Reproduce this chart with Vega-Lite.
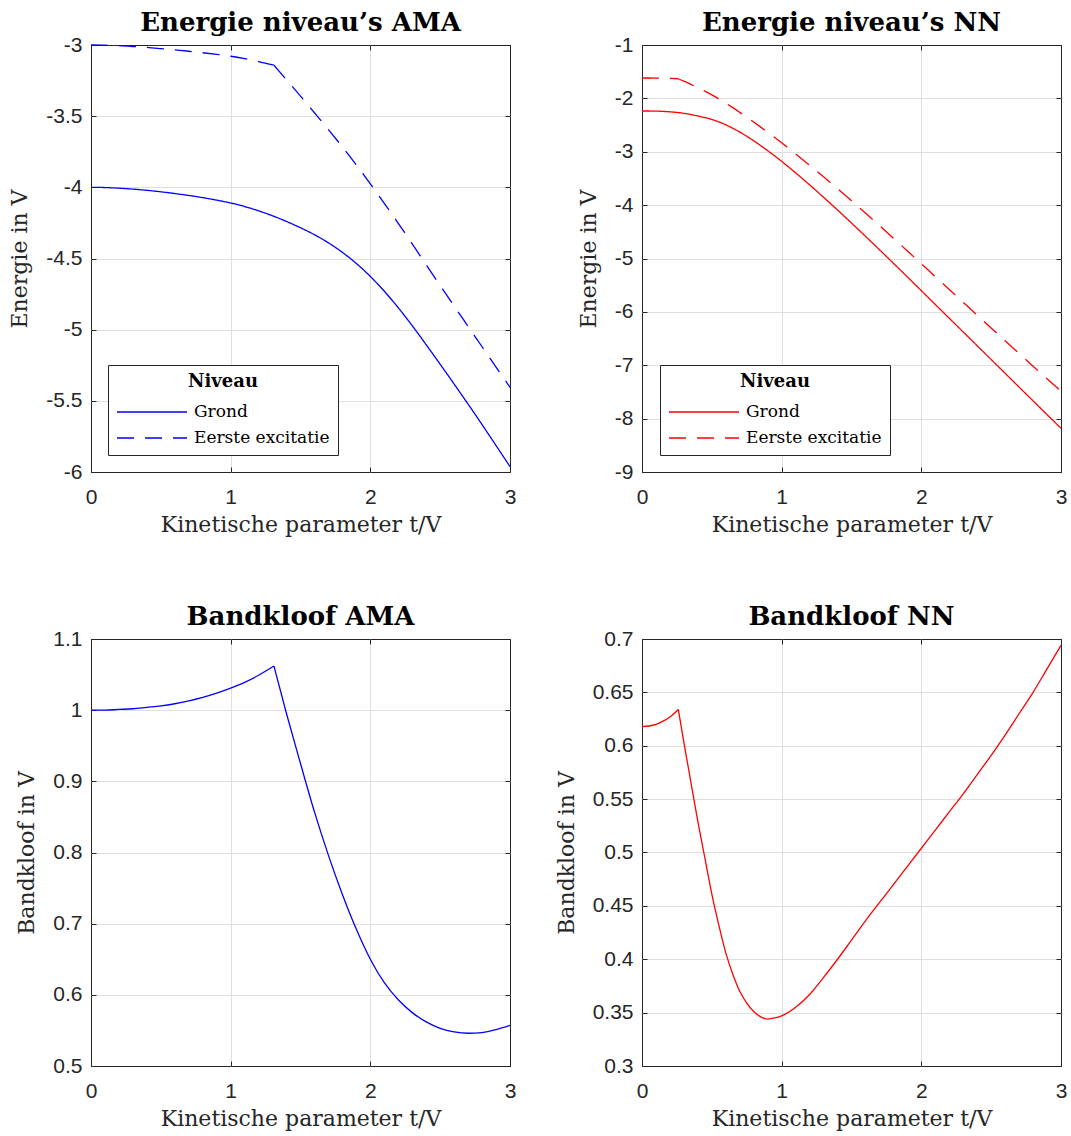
{
  "$schema": "https://vega.github.io/schema/vega-lite/v6.json",
  "background": "white",
  "autosize": {"type": "none"},
  "padding": {"left": 91, "top": 45, "right": 980, "bottom": 1091},
  "columns": 2,
  "spacing": {"row": 167, "column": 132},
  "bounds": "flush",
  "resolve": {"scale": {"strokeDash": "independent"}, "legend": {"strokeDash": "independent"}},
  "datasets": {
    "amaLevels": [
      {"t": 0, "niveau": "Grond", "seg": 1, "E": -4.000}, {"t": 0.1, "niveau": "Grond", "seg": 1, "E": -4.0015}, {"t": 0.2, "niveau": "Grond", "seg": 1, "E": -4.006},
      {"t": 0.3, "niveau": "Grond", "seg": 1, "E": -4.0125}, {"t": 0.4, "niveau": "Grond", "seg": 1, "E": -4.021}, {"t": 0.5, "niveau": "Grond", "seg": 1, "E": -4.0315},
      {"t": 0.6, "niveau": "Grond", "seg": 1, "E": -4.0435}, {"t": 0.7, "niveau": "Grond", "seg": 1, "E": -4.057}, {"t": 0.8, "niveau": "Grond", "seg": 1, "E": -4.0725},
      {"t": 0.9, "niveau": "Grond", "seg": 1, "E": -4.090}, {"t": 1.0, "niveau": "Grond", "seg": 1, "E": -4.110}, {"t": 1.1, "niveau": "Grond", "seg": 1, "E": -4.135},
      {"t": 1.2, "niveau": "Grond", "seg": 1, "E": -4.165}, {"t": 1.3, "niveau": "Grond", "seg": 1, "E": -4.200}, {"t": 1.4, "niveau": "Grond", "seg": 1, "E": -4.240},
      {"t": 1.5, "niveau": "Grond", "seg": 1, "E": -4.284}, {"t": 1.6, "niveau": "Grond", "seg": 1, "E": -4.333}, {"t": 1.7, "niveau": "Grond", "seg": 1, "E": -4.390},
      {"t": 1.8, "niveau": "Grond", "seg": 1, "E": -4.457}, {"t": 1.9, "niveau": "Grond", "seg": 1, "E": -4.535}, {"t": 2.0, "niveau": "Grond", "seg": 1, "E": -4.626},
      {"t": 2.1, "niveau": "Grond", "seg": 1, "E": -4.730}, {"t": 2.2, "niveau": "Grond", "seg": 1, "E": -4.846}, {"t": 2.3, "niveau": "Grond", "seg": 1, "E": -4.972},
      {"t": 2.4, "niveau": "Grond", "seg": 1, "E": -5.106}, {"t": 2.5, "niveau": "Grond", "seg": 1, "E": -5.243}, {"t": 2.6, "niveau": "Grond", "seg": 1, "E": -5.382},
      {"t": 2.7, "niveau": "Grond", "seg": 1, "E": -5.523}, {"t": 2.8, "niveau": "Grond", "seg": 1, "E": -5.667}, {"t": 2.9, "niveau": "Grond", "seg": 1, "E": -5.814},
      {"t": 3.0, "niveau": "Grond", "seg": 1, "E": -5.962},
      {"t": 0, "niveau": "Eerste excitatie", "seg": 1, "E": -3.000}, {"t": 0.1, "niveau": "Eerste excitatie", "seg": 1, "E": -3.0015}, {"t": 0.2, "niveau": "Eerste excitatie", "seg": 1, "E": -3.005},
      {"t": 0.3, "niveau": "Eerste excitatie", "seg": 1, "E": -3.0105}, {"t": 0.4, "niveau": "Eerste excitatie", "seg": 1, "E": -3.017}, {"t": 0.5, "niveau": "Eerste excitatie", "seg": 1, "E": -3.0255},
      {"t": 0.6, "niveau": "Eerste excitatie", "seg": 1, "E": -3.0345}, {"t": 0.7, "niveau": "Eerste excitatie", "seg": 1, "E": -3.044}, {"t": 0.8, "niveau": "Eerste excitatie", "seg": 1, "E": -3.0545},
      {"t": 0.9, "niveau": "Eerste excitatie", "seg": 1, "E": -3.066}, {"t": 1.0, "niveau": "Eerste excitatie", "seg": 1, "E": -3.079}, {"t": 1.1, "niveau": "Eerste excitatie", "seg": 1, "E": -3.096},
      {"t": 1.2, "niveau": "Eerste excitatie", "seg": 1, "E": -3.116}, {"t": 1.31, "niveau": "Eerste excitatie", "seg": 1, "E": -3.142},
      {"t": 1.31, "niveau": "Eerste excitatie", "seg": 2, "E": -3.142}, {"t": 1.4, "niveau": "Eerste excitatie", "seg": 2, "E": -3.245},
      {"t": 1.5, "niveau": "Eerste excitatie", "seg": 2, "E": -3.359}, {"t": 1.6, "niveau": "Eerste excitatie", "seg": 2, "E": -3.476}, {"t": 1.7, "niveau": "Eerste excitatie", "seg": 2, "E": -3.594},
      {"t": 1.8, "niveau": "Eerste excitatie", "seg": 2, "E": -3.716}, {"t": 1.9, "niveau": "Eerste excitatie", "seg": 2, "E": -3.843}, {"t": 2.0, "niveau": "Eerste excitatie", "seg": 2, "E": -3.976},
      {"t": 2.1, "niveau": "Eerste excitatie", "seg": 2, "E": -4.113}, {"t": 2.2, "niveau": "Eerste excitatie", "seg": 2, "E": -4.253}, {"t": 2.3, "niveau": "Eerste excitatie", "seg": 2, "E": -4.397},
      {"t": 2.4, "niveau": "Eerste excitatie", "seg": 2, "E": -4.544}, {"t": 2.5, "niveau": "Eerste excitatie", "seg": 2, "E": -4.690}, {"t": 2.6, "niveau": "Eerste excitatie", "seg": 2, "E": -4.834},
      {"t": 2.7, "niveau": "Eerste excitatie", "seg": 2, "E": -4.977}, {"t": 2.8, "niveau": "Eerste excitatie", "seg": 2, "E": -5.120}, {"t": 2.9, "niveau": "Eerste excitatie", "seg": 2, "E": -5.263},
      {"t": 3.0, "niveau": "Eerste excitatie", "seg": 2, "E": -5.405}
    ],
    "nnLevels": [
      {"t": 0, "niveau": "Grond", "seg": 1, "E": -2.236}, {"t": 0.1, "niveau": "Grond", "seg": 1, "E": -2.239}, {"t": 0.2, "niveau": "Grond", "seg": 1, "E": -2.252},
      {"t": 0.26, "niveau": "Grond", "seg": 1, "E": -2.266}, {"t": 0.3, "niveau": "Grond", "seg": 1, "E": -2.280}, {"t": 0.35, "niveau": "Grond", "seg": 1, "E": -2.303},
      {"t": 0.4, "niveau": "Grond", "seg": 1, "E": -2.330}, {"t": 0.45, "niveau": "Grond", "seg": 1, "E": -2.360}, {"t": 0.5, "niveau": "Grond", "seg": 1, "E": -2.395},
      {"t": 0.55, "niveau": "Grond", "seg": 1, "E": -2.440}, {"t": 0.6, "niveau": "Grond", "seg": 1, "E": -2.495}, {"t": 0.65, "niveau": "Grond", "seg": 1, "E": -2.560},
      {"t": 0.7, "niveau": "Grond", "seg": 1, "E": -2.632}, {"t": 0.75, "niveau": "Grond", "seg": 1, "E": -2.710}, {"t": 0.8, "niveau": "Grond", "seg": 1, "E": -2.795},
      {"t": 0.85, "niveau": "Grond", "seg": 1, "E": -2.885}, {"t": 0.9, "niveau": "Grond", "seg": 1, "E": -2.980}, {"t": 0.95, "niveau": "Grond", "seg": 1, "E": -3.078},
      {"t": 1.0, "niveau": "Grond", "seg": 1, "E": -3.180}, {"t": 1.1, "niveau": "Grond", "seg": 1, "E": -3.395}, {"t": 1.2, "niveau": "Grond", "seg": 1, "E": -3.620},
      {"t": 1.3, "niveau": "Grond", "seg": 1, "E": -3.853}, {"t": 1.4, "niveau": "Grond", "seg": 1, "E": -4.092}, {"t": 1.5, "niveau": "Grond", "seg": 1, "E": -4.336},
      {"t": 1.6, "niveau": "Grond", "seg": 1, "E": -4.584}, {"t": 1.7, "niveau": "Grond", "seg": 1, "E": -4.835}, {"t": 1.8, "niveau": "Grond", "seg": 1, "E": -5.089},
      {"t": 1.9, "niveau": "Grond", "seg": 1, "E": -5.345}, {"t": 2.0, "niveau": "Grond", "seg": 1, "E": -5.603}, {"t": 2.1, "niveau": "Grond", "seg": 1, "E": -5.861},
      {"t": 2.2, "niveau": "Grond", "seg": 1, "E": -6.119}, {"t": 2.3, "niveau": "Grond", "seg": 1, "E": -6.377}, {"t": 2.4, "niveau": "Grond", "seg": 1, "E": -6.635},
      {"t": 2.5, "niveau": "Grond", "seg": 1, "E": -6.893}, {"t": 2.6, "niveau": "Grond", "seg": 1, "E": -7.151}, {"t": 2.7, "niveau": "Grond", "seg": 1, "E": -7.409},
      {"t": 2.8, "niveau": "Grond", "seg": 1, "E": -7.667}, {"t": 2.9, "niveau": "Grond", "seg": 1, "E": -7.925}, {"t": 3.0, "niveau": "Grond", "seg": 1, "E": -8.180},
      {"t": 0, "niveau": "Eerste excitatie", "seg": 1, "E": -1.618}, {"t": 0.1, "niveau": "Eerste excitatie", "seg": 1, "E": -1.619}, {"t": 0.2, "niveau": "Eerste excitatie", "seg": 1, "E": -1.625},
      {"t": 0.26, "niveau": "Eerste excitatie", "seg": 1, "E": -1.632},
      {"t": 0.26, "niveau": "Eerste excitatie", "seg": 2, "E": -1.632}, {"t": 0.3, "niveau": "Eerste excitatie", "seg": 2, "E": -1.677}, {"t": 0.35, "niveau": "Eerste excitatie", "seg": 2, "E": -1.737},
      {"t": 0.4, "niveau": "Eerste excitatie", "seg": 2, "E": -1.801}, {"t": 0.45, "niveau": "Eerste excitatie", "seg": 2, "E": -1.865}, {"t": 0.5, "niveau": "Eerste excitatie", "seg": 2, "E": -1.934},
      {"t": 0.55, "niveau": "Eerste excitatie", "seg": 2, "E": -2.008}, {"t": 0.6, "niveau": "Eerste excitatie", "seg": 2, "E": -2.089}, {"t": 0.65, "niveau": "Eerste excitatie", "seg": 2, "E": -2.174},
      {"t": 0.7, "niveau": "Eerste excitatie", "seg": 2, "E": -2.262}, {"t": 0.75, "niveau": "Eerste excitatie", "seg": 2, "E": -2.351}, {"t": 0.8, "niveau": "Eerste excitatie", "seg": 2, "E": -2.444},
      {"t": 0.85, "niveau": "Eerste excitatie", "seg": 2, "E": -2.539}, {"t": 0.9, "niveau": "Eerste excitatie", "seg": 2, "E": -2.636}, {"t": 0.95, "niveau": "Eerste excitatie", "seg": 2, "E": -2.733},
      {"t": 1.0, "niveau": "Eerste excitatie", "seg": 2, "E": -2.833}, {"t": 1.1, "niveau": "Eerste excitatie", "seg": 2, "E": -3.040}, {"t": 1.2, "niveau": "Eerste excitatie", "seg": 2, "E": -3.253},
      {"t": 1.3, "niveau": "Eerste excitatie", "seg": 2, "E": -3.470}, {"t": 1.4, "niveau": "Eerste excitatie", "seg": 2, "E": -3.692}, {"t": 1.5, "niveau": "Eerste excitatie", "seg": 2, "E": -3.918},
      {"t": 1.6, "niveau": "Eerste excitatie", "seg": 2, "E": -4.148}, {"t": 1.7, "niveau": "Eerste excitatie", "seg": 2, "E": -4.382}, {"t": 1.8, "niveau": "Eerste excitatie", "seg": 2, "E": -4.619},
      {"t": 1.9, "niveau": "Eerste excitatie", "seg": 2, "E": -4.858}, {"t": 2.0, "niveau": "Eerste excitatie", "seg": 2, "E": -5.099}, {"t": 2.1, "niveau": "Eerste excitatie", "seg": 2, "E": -5.340},
      {"t": 2.2, "niveau": "Eerste excitatie", "seg": 2, "E": -5.581}, {"t": 2.3, "niveau": "Eerste excitatie", "seg": 2, "E": -5.822}, {"t": 2.4, "niveau": "Eerste excitatie", "seg": 2, "E": -6.062},
      {"t": 2.5, "niveau": "Eerste excitatie", "seg": 2, "E": -6.302}, {"t": 2.6, "niveau": "Eerste excitatie", "seg": 2, "E": -6.541}, {"t": 2.7, "niveau": "Eerste excitatie", "seg": 2, "E": -6.779},
      {"t": 2.8, "niveau": "Eerste excitatie", "seg": 2, "E": -7.017}, {"t": 2.9, "niveau": "Eerste excitatie", "seg": 2, "E": -7.253}, {"t": 3.0, "niveau": "Eerste excitatie", "seg": 2, "E": -7.486}
    ],
    "amaGap": [
      {"t": 0, "seg": 1, "gap": 1.000}, {"t": 0.1, "seg": 1, "gap": 1.000}, {"t": 0.2, "seg": 1, "gap": 1.001}, {"t": 0.3, "seg": 1, "gap": 1.002}, {"t": 0.4, "seg": 1, "gap": 1.004},
      {"t": 0.5, "seg": 1, "gap": 1.006}, {"t": 0.6, "seg": 1, "gap": 1.009}, {"t": 0.7, "seg": 1, "gap": 1.013}, {"t": 0.8, "seg": 1, "gap": 1.018}, {"t": 0.9, "seg": 1, "gap": 1.024},
      {"t": 1.0, "seg": 1, "gap": 1.031}, {"t": 1.1, "seg": 1, "gap": 1.039}, {"t": 1.2, "seg": 1, "gap": 1.049}, {"t": 1.31, "seg": 1, "gap": 1.062},
      {"t": 1.31, "seg": 2, "gap": 1.062}, {"t": 1.4, "seg": 2, "gap": 0.995},
      {"t": 1.5, "seg": 2, "gap": 0.925}, {"t": 1.6, "seg": 2, "gap": 0.857}, {"t": 1.7, "seg": 2, "gap": 0.796}, {"t": 1.8, "seg": 2, "gap": 0.741}, {"t": 1.9, "seg": 2, "gap": 0.692},
      {"t": 2.0, "seg": 2, "gap": 0.650}, {"t": 2.1, "seg": 2, "gap": 0.617}, {"t": 2.2, "seg": 2, "gap": 0.593}, {"t": 2.3, "seg": 2, "gap": 0.575}, {"t": 2.4, "seg": 2, "gap": 0.562},
      {"t": 2.5, "seg": 2, "gap": 0.553}, {"t": 2.6, "seg": 2, "gap": 0.548}, {"t": 2.7, "seg": 2, "gap": 0.546}, {"t": 2.8, "seg": 2, "gap": 0.547}, {"t": 2.9, "seg": 2, "gap": 0.551},
      {"t": 3.0, "seg": 2, "gap": 0.557}
    ],
    "nnGap": [
      {"t": 0, "seg": 1, "gap": 0.618}, {"t": 0.05, "seg": 1, "gap": 0.6185}, {"t": 0.1, "seg": 1, "gap": 0.620}, {"t": 0.15, "seg": 1, "gap": 0.623}, {"t": 0.2, "seg": 1, "gap": 0.627},
      {"t": 0.26, "seg": 1, "gap": 0.634},
      {"t": 0.26, "seg": 2, "gap": 0.634}, {"t": 0.3, "seg": 2, "gap": 0.603}, {"t": 0.35, "seg": 2, "gap": 0.566}, {"t": 0.4, "seg": 2, "gap": 0.529}, {"t": 0.45, "seg": 2, "gap": 0.495},
      {"t": 0.5, "seg": 2, "gap": 0.461}, {"t": 0.55, "seg": 2, "gap": 0.432}, {"t": 0.6, "seg": 2, "gap": 0.406}, {"t": 0.65, "seg": 2, "gap": 0.386}, {"t": 0.7, "seg": 2, "gap": 0.370},
      {"t": 0.75, "seg": 2, "gap": 0.359}, {"t": 0.8, "seg": 2, "gap": 0.351}, {"t": 0.85, "seg": 2, "gap": 0.346}, {"t": 0.9, "seg": 2, "gap": 0.344}, {"t": 0.95, "seg": 2, "gap": 0.345},
      {"t": 1.0, "seg": 2, "gap": 0.347}, {"t": 1.1, "seg": 2, "gap": 0.355}, {"t": 1.2, "seg": 2, "gap": 0.367}, {"t": 1.3, "seg": 2, "gap": 0.383}, {"t": 1.4, "seg": 2, "gap": 0.400},
      {"t": 1.5, "seg": 2, "gap": 0.418}, {"t": 1.6, "seg": 2, "gap": 0.436}, {"t": 1.7, "seg": 2, "gap": 0.453}, {"t": 1.8, "seg": 2, "gap": 0.470}, {"t": 1.9, "seg": 2, "gap": 0.487},
      {"t": 2.0, "seg": 2, "gap": 0.504}, {"t": 2.1, "seg": 2, "gap": 0.521}, {"t": 2.2, "seg": 2, "gap": 0.538}, {"t": 2.3, "seg": 2, "gap": 0.555}, {"t": 2.4, "seg": 2, "gap": 0.573},
      {"t": 2.5, "seg": 2, "gap": 0.591}, {"t": 2.6, "seg": 2, "gap": 0.610}, {"t": 2.7, "seg": 2, "gap": 0.630}, {"t": 2.8, "seg": 2, "gap": 0.650}, {"t": 2.9, "seg": 2, "gap": 0.672},
      {"t": 3.0, "seg": 2, "gap": 0.694}
    ]
  },
  "concat": [
    {
      "width": 419, "height": 427,
      "title": {"text": "Energie niveau’s AMA"},
      "data": {"name": "amaLevels"},
      "layer": [
        {
          "mark": {"type": "line", "color": "#0000ff", "strokeWidth": 1.3, "interpolate": "monotone"},
          "encoding": {
            "x": {"field": "t", "type": "quantitative", "scale": {"domain": [0, 3], "nice": false, "zero": false},
              "axis": {"title": "Kinetische parameter t/V", "values": [0, 1, 2, 3], "format": "~g", "labelExpr": "replace(datum.label, '−', '-')",
                "gridOpacity": {"condition": {"test": "datum.value == 0 || datum.value == 3", "value": 0}, "value": 1}}},
            "y": {"field": "E", "type": "quantitative", "scale": {"domain": [-6, -3], "nice": false, "zero": false},
              "axis": {"title": "Energie in V", "values": [-6, -5.5, -5, -4.5, -4, -3.5, -3], "format": "~g", "labelExpr": "replace(datum.label, '−', '-')",
                "gridOpacity": {"condition": {"test": "datum.value == -6 || datum.value == -3", "value": 0}, "value": 1}}},
            "strokeDash": {"field": "niveau", "type": "nominal",
              "scale": {"domain": ["Grond", "Eerste excitatie"], "range": [[1, 0], [17, 11]]},
              "legend": {"title": "Niveau", "orient": "none", "legendX": 17, "legendY": 320, "symbolStrokeColor": "#0000ff"}},
            "detail": {"field": "seg", "type": "nominal"}
          }
        },
        {
          "mark": {"type": "point", "opacity": 0},
          "encoding": {
            "x": {"field": "t", "type": "quantitative", "axis": {"orient": "top", "labels": false, "title": null, "grid": false, "values": [0, 1, 2, 3]}},
            "y": {"field": "E", "type": "quantitative", "axis": {"orient": "right", "labels": false, "title": null, "grid": false, "values": [-6, -5.5, -5, -4.5, -4, -3.5, -3]}}
          }
        }
      ],
      "resolve": {"axis": {"x": "independent", "y": "independent"}}
    },
    {
      "width": 419, "height": 427,
      "title": {"text": "Energie niveau’s NN"},
      "data": {"name": "nnLevels"},
      "layer": [
        {
          "mark": {"type": "line", "color": "#ff0000", "strokeWidth": 1.3, "interpolate": "monotone"},
          "encoding": {
            "x": {"field": "t", "type": "quantitative", "scale": {"domain": [0, 3], "nice": false, "zero": false},
              "axis": {"title": "Kinetische parameter t/V", "values": [0, 1, 2, 3], "format": "~g", "labelExpr": "replace(datum.label, '−', '-')",
                "gridOpacity": {"condition": {"test": "datum.value == 0 || datum.value == 3", "value": 0}, "value": 1}}},
            "y": {"field": "E", "type": "quantitative", "scale": {"domain": [-9, -1], "nice": false, "zero": false},
              "axis": {"title": "Energie in V", "values": [-9, -8, -7, -6, -5, -4, -3, -2, -1], "format": "~g", "labelExpr": "replace(datum.label, '−', '-')",
                "gridOpacity": {"condition": {"test": "datum.value == -9 || datum.value == -1", "value": 0}, "value": 1}}},
            "strokeDash": {"field": "niveau", "type": "nominal",
              "scale": {"domain": ["Grond", "Eerste excitatie"], "range": [[1, 0], [17, 11]]},
              "legend": {"title": "Niveau", "orient": "none", "legendX": 18, "legendY": 320, "symbolStrokeColor": "#ff0000"}},
            "detail": {"field": "seg", "type": "nominal"}
          }
        },
        {
          "mark": {"type": "point", "opacity": 0},
          "encoding": {
            "x": {"field": "t", "type": "quantitative", "axis": {"orient": "top", "labels": false, "title": null, "grid": false, "values": [0, 1, 2, 3]}},
            "y": {"field": "E", "type": "quantitative", "axis": {"orient": "right", "labels": false, "title": null, "grid": false, "values": [-9, -8, -7, -6, -5, -4, -3, -2, -1]}}
          }
        }
      ],
      "resolve": {"axis": {"x": "independent", "y": "independent"}}
    },
    {
      "width": 419, "height": 427,
      "title": {"text": "Bandkloof AMA"},
      "data": {"name": "amaGap"},
      "layer": [
        {
          "mark": {"type": "line", "color": "#0000ff", "strokeWidth": 1.3, "interpolate": "monotone"},
          "encoding": {
            "x": {"field": "t", "type": "quantitative", "scale": {"domain": [0, 3], "nice": false, "zero": false},
              "axis": {"title": "Kinetische parameter t/V", "values": [0, 1, 2, 3], "format": "~g",
                "gridOpacity": {"condition": {"test": "datum.value == 0 || datum.value == 3", "value": 0}, "value": 1}}},
            "y": {"field": "gap", "type": "quantitative", "scale": {"domain": [0.5, 1.1], "nice": false, "zero": false},
              "axis": {"title": "Bandkloof in V", "values": [0.5, 0.6, 0.7, 0.8, 0.9, 1, 1.1], "format": "~g",
                "gridOpacity": {"condition": {"test": "datum.value < 0.55 || datum.value > 1.05", "value": 0}, "value": 1}}},
            "detail": {"field": "seg", "type": "nominal"}
          }
        },
        {
          "mark": {"type": "point", "opacity": 0},
          "encoding": {
            "x": {"field": "t", "type": "quantitative", "axis": {"orient": "top", "labels": false, "title": null, "grid": false, "values": [0, 1, 2, 3]}},
            "y": {"field": "gap", "type": "quantitative", "axis": {"orient": "right", "labels": false, "title": null, "grid": false, "values": [0.5, 0.6, 0.7, 0.8, 0.9, 1, 1.1]}}
          }
        }
      ],
      "resolve": {"axis": {"x": "independent", "y": "independent"}}
    },
    {
      "width": 419, "height": 427,
      "title": {"text": "Bandkloof NN"},
      "data": {"name": "nnGap"},
      "layer": [
        {
          "mark": {"type": "line", "color": "#ff0000", "strokeWidth": 1.3, "interpolate": "monotone"},
          "encoding": {
            "x": {"field": "t", "type": "quantitative", "scale": {"domain": [0, 3], "nice": false, "zero": false},
              "axis": {"title": "Kinetische parameter t/V", "values": [0, 1, 2, 3], "format": "~g",
                "gridOpacity": {"condition": {"test": "datum.value == 0 || datum.value == 3", "value": 0}, "value": 1}}},
            "y": {"field": "gap", "type": "quantitative", "scale": {"domain": [0.3, 0.7], "nice": false, "zero": false},
              "axis": {"title": "Bandkloof in V", "values": [0.3, 0.35, 0.4, 0.45, 0.5, 0.55, 0.6, 0.65, 0.7], "format": "~g",
                "gridOpacity": {"condition": {"test": "datum.value < 0.31 || datum.value > 0.69", "value": 0}, "value": 1}}},
            "detail": {"field": "seg", "type": "nominal"}
          }
        },
        {
          "mark": {"type": "point", "opacity": 0},
          "encoding": {
            "x": {"field": "t", "type": "quantitative", "axis": {"orient": "top", "labels": false, "title": null, "grid": false, "values": [0, 1, 2, 3]}},
            "y": {"field": "gap", "type": "quantitative", "axis": {"orient": "right", "labels": false, "title": null, "grid": false, "values": [0.3, 0.35, 0.4, 0.45, 0.5, 0.55, 0.6, 0.65, 0.7]}}
          }
        }
      ],
      "resolve": {"axis": {"x": "independent", "y": "independent"}}
    }
  ],
  "config": {
    "view": {"stroke": "#262626", "strokeWidth": 1},
    "font": "Liberation Sans",
    "title": {"font": "DejaVu Serif", "fontSize": 26, "fontWeight": "bold", "color": "#000000", "anchor": "middle", "baseline": "alphabetic", "offset": -2},
    "axis": {
      "domain": false, "gridColor": "#dfdfdf", "gridWidth": 1, "tickColor": "#262626", "tickSize": -5, "tickWidth": 1,
      "labelFont": "Liberation Sans", "labelFontSize": 21, "labelColor": "#262626", "labelFlush": false, "labelOverlap": false,
      "titleFont": "DejaVu Serif", "titleFontSize": 22, "titleFontWeight": "normal", "titleColor": "#262626"
    },
    "axisX": {"labelPadding": 19, "titlePadding": 7},
    "axisY": {"labelPadding": 14, "titlePadding": 14},
    "legend": {
      "titleFont": "DejaVu Serif", "titleFontSize": 18, "titleFontWeight": "bold", "titleColor": "#000000", "titleAnchor": "middle", "titlePadding": 12,
      "labelFont": "DejaVu Serif", "labelFontSize": 17, "labelColor": "#000000", "labelOffset": 6,
      "symbolType": "stroke", "symbolSize": 4900, "symbolStrokeWidth": 1.3, "clipHeight": 18, "rowPadding": 8,
      "padding": 8, "strokeColor": "#262626", "fillColor": "#ffffff", "cornerRadius": 0
    },
    "line": {"strokeWidth": 1.3}
  }
}
